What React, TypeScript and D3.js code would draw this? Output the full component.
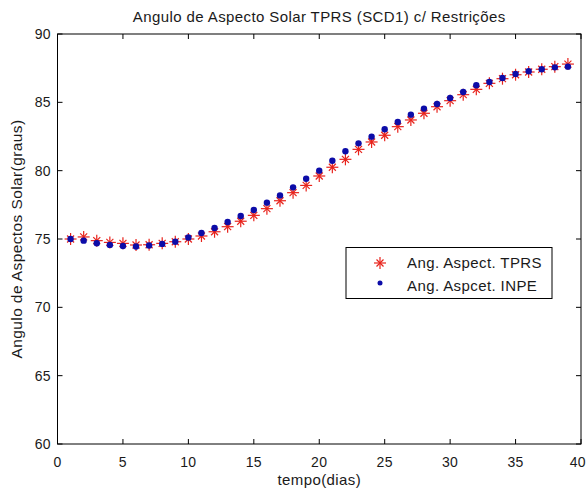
import React from "react";
import * as d3 from "d3";

const days = d3.range(1, 40);
const tprs = [75.0, 75.15, 74.88, 74.75, 74.68, 74.56, 74.58, 74.68, 74.8, 75.0, 75.22, 75.53, 75.9, 76.3, 76.73, 77.22, 77.8, 78.39, 78.92, 79.61, 80.25, 80.83, 81.56, 82.1, 82.59, 83.22, 83.71, 84.2, 84.68, 85.12, 85.56, 85.95, 86.39, 86.73, 87.02, 87.22, 87.42, 87.61, 87.8];
const inpe = [75.0, 74.88, 74.69, 74.57, 74.49, 74.45, 74.52, 74.64, 74.8, 75.11, 75.44, 75.81, 76.24, 76.68, 77.12, 77.66, 78.19, 78.78, 79.41, 80.0, 80.73, 81.42, 82.0, 82.49, 83.03, 83.56, 84.1, 84.54, 84.88, 85.32, 85.76, 86.25, 86.49, 86.78, 87.07, 87.27, 87.42, 87.56, 87.61];
const xTicks = [0, 5, 10, 15, 20, 25, 30, 35, 40];
const yTicks = [60, 65, 70, 75, 80, 85, 90];
const title = "Angulo de Aspecto Solar TPRS (SCD1) c/ Restrições";
const xLabel = "tempo(dias)";
const yLabel = "Angulo de Aspectos Solar(graus)";
const legendLabels = ["Ang. Aspect. TPRS", "Ang. Aspcet. INPE"];

const W = 587, H = 491;
const L = 57.5, R = 581, T = 34, B = 444;
const RED = "#e8231c";
const BLUE = "#0c0ca8";
const FONT = "'Liberation Sans', Arial, sans-serif";
const TXT = "#1a1a1a";

function Star({ x, y }: { x: number; y: number }) {
  const a = 6, b = 3.5;
  return (
    <g stroke={RED} strokeWidth={1.2}>
      <line x1={x - a} y1={y} x2={x + a} y2={y} />
      <line x1={x} y1={y - a} x2={x} y2={y + a} />
      <line x1={x - b} y1={y - b} x2={x + b} y2={y + b} />
      <line x1={x - b} y1={y + b} x2={x + b} y2={y - b} />
    </g>
  );
}

export default function App() {
  const x = d3.scaleLinear().domain([0, 40]).range([L, R]);
  const y = d3.scaleLinear().domain([60, 90]).range([B, T]);
  const tl = 5;
  return (
    <svg width={W} height={H} style={{ position: "absolute", left: 0, top: 0, background: "#fff" }} fontFamily={FONT} letterSpacing={0.4}>
      <rect x={0} y={0} width={W} height={H} fill="#fff" />
      <text x={(L + R) / 2} y={22} textAnchor="middle" fontSize={15} fill={TXT}>{title}</text>
      {xTicks.map((t) => {
        const px = x(t);
        const overflow = px + 10 > W;
        return (
          <g key={"x" + t}>
            <line x1={px} x2={px} y1={B} y2={B - tl} stroke="#000" />
            <line x1={px} x2={px} y1={T} y2={T + tl} stroke="#000" />
            <text x={overflow ? W - 1 : px} y={467} textAnchor={overflow ? "end" : "middle"} fontSize={14} fill={TXT}>{t}</text>
          </g>
        );
      })}
      {yTicks.map((t) => (
        <g key={"y" + t}>
          <line x1={L} x2={L + tl} y1={y(t)} y2={y(t)} stroke="#000" />
          <line x1={R} x2={R - tl} y1={y(t)} y2={y(t)} stroke="#000" />
          <text x={51} y={y(t) + 5} textAnchor="end" fontSize={14} fill={TXT}>{t}</text>
        </g>
      ))}
      <rect x={L} y={T} width={R - L} height={B - T} fill="none" stroke="#000" strokeWidth={1} />
      <text x={(L + R) / 2} y={485} textAnchor="middle" fontSize={15} fill={TXT}>{xLabel}</text>
      <text transform={`translate(22,${(T + B) / 2}) rotate(-90)`} textAnchor="middle" fontSize={15.5} fill={TXT}>{yLabel}</text>
      {days.map((d, i) => <Star key={"s" + d} x={x(d)} y={y(tprs[i])} />)}
      {days.map((d, i) => <circle key={"c" + d} cx={x(d)} cy={y(inpe[i])} r={3.2} fill={BLUE} />)}
      <rect x={346} y={247.5} width={206} height={51} fill="#fff" stroke="#000" strokeWidth={1} />
      <Star x={380} y={263} />
      <circle cx={380} cy={283} r={2.5} fill={BLUE} />
      <text x={407} y={268} fontSize={15} fill={TXT}>{legendLabels[0]}</text>
      <text x={407} y={290.5} fontSize={15} fill={TXT}>{legendLabels[1]}</text>
    </svg>
  );
}
